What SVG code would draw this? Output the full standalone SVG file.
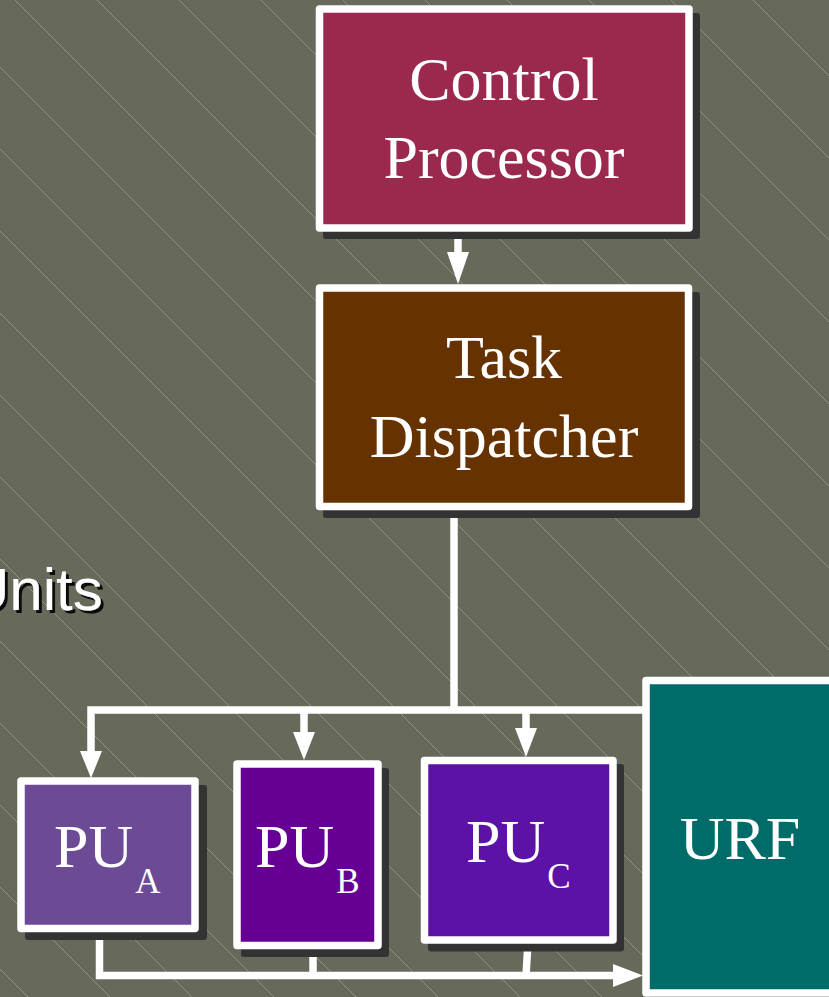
<svg xmlns="http://www.w3.org/2000/svg" width="829" height="997" viewBox="0 0 829 997">
  <defs>
    <!-- soft drop shadow for the caption text -->
    <filter id="textShadow" x="-10%" y="-10%" width="130%" height="140%">
      <feOffset in="SourceAlpha" dx="2.5" dy="2.5" result="off"/>
      <feComponentTransfer in="off" result="dark">
        <feFuncA type="linear" slope="0.9"/>
      </feComponentTransfer>
      <feMerge>
        <feMergeNode in="dark"/>
        <feMergeNode in="SourceGraphic"/>
      </feMerge>
    </filter>
    <style>
      .hatch { fill: none; stroke: #989a8d; stroke-width: 0.8; }
      .shadow { fill: #333333; }
      .box { stroke: #ffffff; stroke-width: 7.5; stroke-linejoin: round; }
      .label { font-family: "Liberation Serif", "Times New Roman", serif; font-size: 62px; fill: #ffffff; }
      .centered { text-anchor: middle; }
      .sub { font-size: 35px; }
      .wire { fill: none; stroke: #ffffff; stroke-width: 7.5; stroke-linejoin: miter; stroke-linecap: butt; }
      .head { fill: #ffffff; }
      .caption { font-family: "Liberation Sans", Arial, sans-serif; font-size: 60px; fill: #ffffff; }
    </style>
  </defs>

  <!-- background with thin diagonal hatch, 82px apart -->
  <rect x="0" y="0" width="829" height="997" fill="#67695b"/>
  <path class="hatch" d="
    M-969,0 l997,997 M-887,0 l997,997 M-805,0 l997,997 M-723,0 l997,997
    M-641,0 l997,997 M-559,0 l997,997 M-477,0 l997,997 M-395,0 l997,997
    M-313,0 l997,997 M-231,0 l997,997 M-149,0 l997,997 M-67,0 l997,997
    M15,0 l997,997 M97,0 l997,997 M179,0 l997,997 M261,0 l997,997
    M343,0 l997,997 M425,0 l997,997 M507,0 l997,997 M589,0 l997,997
    M671,0 l997,997 M753,0 l997,997"/>

  <!-- partially visible caption -->
  <g id="caption">
    <text class="caption" x="-34" y="610" filter="url(#textShadow)">Units</text>
  </g>

  <!-- connectors -->
  <g id="connectors">
    <!-- control processor to task dispatcher -->
    <path class="wire" d="M458,231 V253"/>
    <polygon class="head" points="447,252 469,252 458,284"/>
    <!-- dispatcher down to the distribution bus -->
    <path class="wire" d="M454,509 V710"/>
    <path class="wire" d="M646,710 H91 V752"/>
    <polygon class="head" points="80,751 102,751 91,778"/>
    <path class="wire" d="M304,710 V733"/>
    <polygon class="head" points="293,732 315,732 304,760"/>
    <path class="wire" d="M526,710 V729"/>
    <polygon class="head" points="515,728 537,728 526,757"/>
    <!-- results bus into the register file -->
    <path class="wire" d="M99.5,931 V975.5 H615"/>
    <polygon class="head" points="613,964 613,987 643,975.5"/>
    <path class="wire" d="M313,948 V975"/>
    <path class="wire" d="M528,943 L526,975"/>
  </g>

  <g id="control-processor">
    <rect class="shadow" x="323" y="13" width="377" height="226" rx="3"/>
    <rect class="box" x="319.5" y="9" width="369.5" height="219" fill="#9b294e"/>
    <text class="label centered" x="504" y="100">Control</text>
    <text class="label centered" x="504" y="178">Processor</text>
  </g>

  <g id="task-dispatcher">
    <rect class="shadow" x="323" y="292" width="377" height="226" rx="3"/>
    <rect class="box" x="319.5" y="288" width="369" height="218.5" fill="#663300"/>
    <text class="label centered" x="504" y="378">Task</text>
    <text class="label centered" x="504" y="457">Dispatcher</text>
  </g>

  <g id="pu-a">
    <rect class="shadow" x="25" y="785" width="182" height="155" rx="3"/>
    <rect class="box" x="21" y="781" width="174" height="147.5" fill="#6d4a95"/>
    <text class="label" x="54" y="867">PU<tspan class="sub" dx="2" dy="26">A</tspan></text>
  </g>

  <g id="pu-b">
    <rect class="shadow" x="241" y="768" width="148" height="189" rx="3"/>
    <rect class="box" x="237" y="764" width="141" height="181.5" fill="#660094"/>
    <text class="label" x="255" y="867">PU<tspan class="sub" dx="2" dy="26">B</tspan></text>
  </g>

  <g id="pu-c">
    <rect class="shadow" x="428" y="764" width="196" height="187.5" rx="3"/>
    <rect class="box" x="424.5" y="760.5" width="188.5" height="179.5" fill="#5c12a6"/>
    <text class="label" x="466" y="862">PU<tspan class="sub" dx="2" dy="26">C</tspan></text>
  </g>

  <g id="urf">
    <rect class="shadow" x="650" y="684" width="200" height="320" rx="3"/>
    <rect class="box" x="646" y="680.5" width="200" height="312.5" fill="#006c6a"/>
    <text class="label centered" x="740" y="859">URF</text>
  </g>
</svg>
